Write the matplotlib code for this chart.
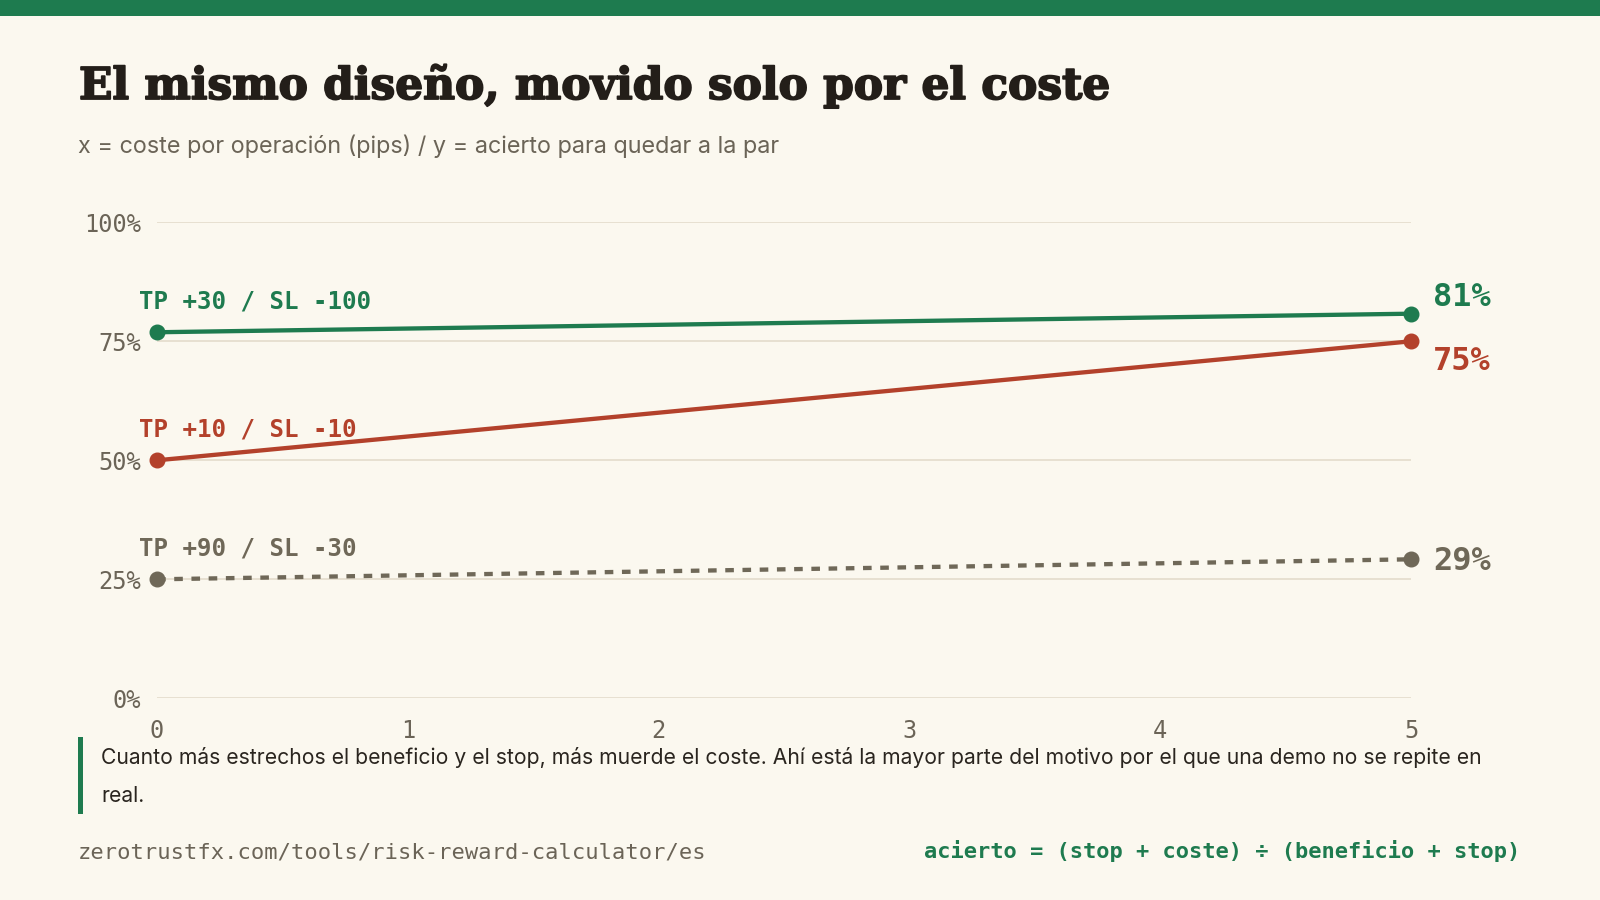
import matplotlib
matplotlib.use("Agg")
import matplotlib.pyplot as plt
import matplotlib.patheffects as pe
from matplotlib.patches import Rectangle

# ---------------- data ----------------
cost_pips = [0, 5]
series_names = ["TP +30 / SL -100", "TP +10 / SL -10", "TP +90 / SL -30"]
series_green = [76.9, 80.8]
series_red = [50.0, 75.0]
series_gray = [25.0, 29.2]
y_ticks = [0, 25, 50, 75, 100]
y_tick_labels = ["0%", "25%", "50%", "75%", "100%"]
x_ticks = [0, 1, 2, 3, 4, 5]

title_text = "El mismo diseño, movido solo por el coste"
subtitle_text = "x = coste por operación (pips) / y = acierto para quedar a la par"
note_line1 = ("Cuanto más estrechos el beneficio y el stop, más muerde el coste. "
              "Ahí está la mayor parte del motivo por el que una demo no se repite en")
note_line2 = "real."
footer_left = "zerotrustfx.com/tools/risk-reward-calculator/es"
footer_right = "acierto = (stop + coste) ÷ (beneficio + stop)"

# ---------------- style ----------------
BG = "#fbf8ef"
GREEN = "#1e7b4f"
RED = "#b3412b"
GRAY = "#6f6858"
INK = "#231e19"
MUTED = "#6b6457"
GRID = "#e3dccb"
NOTE = "#2a251f"
MONO = ["DejaVu Sans Mono"]
SANS = ["Inter", "DejaVu Sans"]
SERIF = ["DejaVu Serif"]

W, H = 1600, 900
fig = plt.figure(figsize=(16, 9), dpi=100, facecolor=BG)
renderer = fig.canvas.get_renderer()


def px(x, y):
    return x / W, 1 - y / H


def fit(t, target_w):
    bb = t.get_window_extent(renderer)
    t.set_fontsize(t.get_fontsize() * target_w / bb.width)


# top bar
fig.add_artist(Rectangle((0, 1 - 16 / H), 1, 16 / H, transform=fig.transFigure,
                         facecolor=GREEN, edgecolor="none"))

# title / subtitle
t = fig.text(*px(79, 99), title_text, family=SERIF, weight="bold", color=INK,
             fontsize=28, ha="left", va="baseline")
fit(t, 1111 - 79)
t.set_path_effects([pe.withStroke(linewidth=1.3, foreground=INK)])
t = fig.text(*px(78, 153), subtitle_text, family=SANS, color=MUTED,
             fontsize=15, ha="left", va="baseline")
fit(t, 781 - 78)

# axes
x0, x1 = 157, 1411
y0, y1 = 698.3, 222.3
ax = fig.add_axes([x0 / W, 1 - y0 / H, (x1 - x0) / W, (y0 - y1) / H])
ax.set_facecolor(BG)
ax.set_xlim(0, 5)
ax.set_ylim(0, 100)
for s in ax.spines.values():
    s.set_visible(False)
ax.set_yticks(y_ticks)
ax.set_yticklabels(y_tick_labels)
ax.set_xticks(x_ticks)
ax.set_xticklabels([str(v) for v in x_ticks])
ax.tick_params(length=0, labelsize=17, labelcolor=MUTED)
ax.tick_params(axis="y", pad=11.5)
ax.tick_params(axis="x", pad=15)
for lab in ax.get_xticklabels() + ax.get_yticklabels():
    lab.set_family(MONO)
ax.grid(axis="y", color=GRID, linewidth=1.2)
ax.set_axisbelow(True)

series = [
    (series_green, GREEN, "-", 5.3),
    (series_red, RED, "-", -20.4),
    (series_gray, GRAY, "--", -7.7),
]
for (vals, col, ls, endoff), name in zip(series, series_names):
    line, = ax.plot(cost_pips, vals, color=col, linewidth=3.1, marker="o",
                    markersize=10.5, clip_on=False, solid_capstyle="round", zorder=3)
    if ls == "--":
        line.set_dashes([2.0, 2.0])
        line.set_dash_capstyle("butt")
    ax.annotate(name, (cost_pips[0], vals[0]), xytext=(-13, 17),
                textcoords="offset points", ha="left", va="baseline",
                family=MONO, weight="bold", fontsize=17.4, color=col)
    ax.annotate(f"{round(vals[-1]):d}%", (cost_pips[-1], vals[-1]), xytext=(16, endoff),
                textcoords="offset points", ha="left", va="baseline",
                family=MONO, weight="bold", fontsize=23, color=col,
                annotation_clip=False)

# note block
fig.add_artist(Rectangle(px(77.5, 814), 5 / W, (814 - 737) / H, transform=fig.transFigure,
                         facecolor=GREEN, edgecolor="none"))
t = fig.text(*px(101.5, 764), note_line1, family=SANS, color=NOTE,
             fontsize=15, ha="left", va="baseline")
fit(t, 1479 - 101.5)
fs_note = t.get_fontsize()
fig.text(*px(101.5, 802), note_line2, family=SANS, color=NOTE,
         fontsize=fs_note, ha="left", va="baseline")

# footer
t = fig.text(*px(78, 858), footer_left, family=MONO, color=MUTED,
             fontsize=16, ha="left", va="baseline")
fit(t, 703 - 78)
t = fig.text(*px(1520, 858), footer_right, family=MONO, weight="bold", color=GREEN,
             fontsize=16, ha="right", va="baseline")
fit(t, 1520 - 923)

fig.savefig("out.png", dpi=100, facecolor=BG)
